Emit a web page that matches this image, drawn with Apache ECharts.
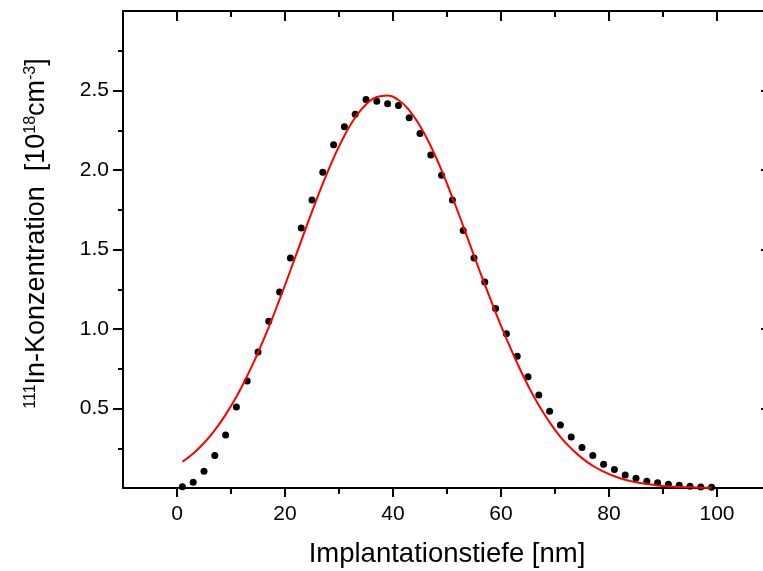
<!DOCTYPE html>
<html>
<head>
<meta charset="utf-8">
<script src="https://cdn.jsdelivr.net/npm/echarts@6/dist/echarts.min.js"></script>
<style>
html,body{margin:0;padding:0;background:#fff;}
#c{width:763px;height:571px;}
</style>
</head>
<body>
<div id="c"></div>
<script>
// Depth positions [nm]
const depth = [1,3,5,7,9,11,13,15,17,19,21,23,25,27,29,31,33,35,37,39,41,43,45,47,49,
               51,53,55,57,59,61,63,65,67,69,71,73,75,77,79,81,83,85,87,89,91,93,95,97,99];
// Measured 111In concentration [1e18 cm^-3]
const measured = [0.008,0.036,0.105,0.205,0.334,0.51,0.673,0.855,1.049,1.233,1.446,1.636,1.812,1.986,2.159,2.272,2.351,2.443,2.433,2.416,2.406,2.328,2.230,2.094,1.967,
                  1.812,1.620,1.446,1.296,1.129,0.970,0.828,0.700,0.585,0.483,0.397,0.320,0.255,0.205,0.150,0.117,0.082,0.061,0.042,0.033,0.023,0.017,0.011,0.006,0.004];
// Fitted curve (red)
const fit = [0.165,0.217,0.283,0.364,0.461,0.574,0.705,0.851,1.012,1.186,1.368,1.554,1.738,1.914,2.075,2.216,2.330,2.412,2.459,2.469,2.440,2.375,2.277,2.149,1.997,
             1.827,1.647,1.461,1.28,1.105,0.94,0.785,0.645,0.52,0.414,0.322,0.249,0.188,0.14,0.103,0.074,0.052,0.036,0.025,0.016,0.01,0.006,0.004,0.002,0.001];
// Tick values
const xTickLabels = [0,20,40,60,80,100];
const xMinorTicks = [10,30,50,70,90];
const yTickLabels = [0.5,1.0,1.5,2.0,2.5];
const yMinorTicks = [0.25,0.75,1.25,1.75,2.25,2.75];

const FONT = '"Liberation Sans", Arial, sans-serif';
const BLACK = '#000';
const gridRect = {left:123, top:11, width:648, height:477, outerBoundsMode:'none', containLabel:false};

function xAx(gi, pos, opts){
  return Object.assign({
    gridIndex: gi, type:'value', position: pos, min:-10, max:110, interval:10,
    axisLine:{show:false, onZero:false, lineStyle:{color:BLACK,width:2}},
    axisTick:{show:false},
    axisLabel:{show:false},
    splitLine:{show:false}
  }, opts);
}
function yAx(gi, pos, opts){
  return Object.assign({
    gridIndex: gi, type:'value', position: pos, min:0, max:3, interval:0.5,
    axisLine:{show:false, onZero:false, lineStyle:{color:BLACK,width:2}},
    axisTick:{show:false},
    axisLabel:{show:false},
    splitLine:{show:false}
  }, opts);
}

const chart = echarts.init(document.getElementById('c'), null, {renderer:'canvas'});
chart.setOption({
  animation:false,
  backgroundColor:'#fff',
  grid:[Object.assign({}, gridRect), Object.assign({}, gridRect)],
  xAxis:[
    xAx(0,'bottom',{
      axisLine:{show:true,onZero:false,lineStyle:{color:BLACK,width:2}},
      axisTick:{show:true,inside:false,length:9,customValues:xTickLabels,lineStyle:{color:BLACK,width:2}},
      axisLabel:{show:true,customValues:xTickLabels,margin:16,fontSize:21,color:BLACK,fontFamily:FONT},
      name:'Implantationstiefe [nm]', nameLocation:'middle', nameGap:52,
      nameTextStyle:{fontSize:27.5,color:BLACK,fontFamily:FONT}
    }),
    xAx(0,'top',{
      axisLine:{show:true,onZero:false,lineStyle:{color:BLACK,width:2}},
      axisTick:{show:true,inside:true,length:10,customValues:xTickLabels,lineStyle:{color:BLACK,width:2}}
    }),
    xAx(1,'bottom',{
      axisTick:{show:true,inside:false,length:6,customValues:xMinorTicks,lineStyle:{color:BLACK,width:2}}
    }),
    xAx(1,'top',{
      axisTick:{show:true,inside:true,length:6,customValues:xMinorTicks,lineStyle:{color:BLACK,width:2}}
    })
  ],
  yAxis:[
    yAx(0,'left',{
      axisLine:{show:true,onZero:false,lineStyle:{color:BLACK,width:2}},
      axisTick:{show:true,inside:false,length:10,customValues:yTickLabels,lineStyle:{color:BLACK,width:2}},
      axisLabel:{show:true,customValues:yTickLabels,margin:14,fontSize:21,color:BLACK,fontFamily:FONT,
                 formatter:function(v){return Number(v).toFixed(1);}},
      name:'{sup|111}In-Konzentration  [10{sup|18}cm{sup|-3}]',
      nameLocation:'middle', nameGap:73, nameRotate:90,
      nameTextStyle:{fontSize:27,color:BLACK,fontFamily:FONT,padding:[0,0,0,32],
        rich:{sup:{fontSize:16,lineHeight:16,verticalAlign:'top',color:BLACK,fontFamily:FONT}}}
    }),
    yAx(0,'right',{
      axisLine:{show:true,onZero:false,lineStyle:{color:BLACK,width:2}},
      axisTick:{show:true,inside:true,length:10,customValues:yTickLabels,lineStyle:{color:BLACK,width:2}}
    }),
    yAx(1,'left',{
      axisTick:{show:true,inside:false,length:5,customValues:yMinorTicks,lineStyle:{color:BLACK,width:2}}
    }),
    yAx(1,'right',{
      axisTick:{show:true,inside:true,length:5,customValues:yMinorTicks,lineStyle:{color:BLACK,width:2}}
    })
  ],
  series:[
    {
      type:'scatter', xAxisIndex:0, yAxisIndex:0,
      data: depth.map(function(d,i){return [d, measured[i]];}),
      symbol:'circle', symbolSize:7,
      itemStyle:{color:BLACK, opacity:1},
      silent:true, z:2
    },
    {
      type:'line', xAxisIndex:0, yAxisIndex:0,
      data: depth.map(function(d,i){return [d, fit[i]];}),
      showSymbol:false, smooth:true,
      lineStyle:{color:'#ff0000',width:2},
      silent:true, z:3
    }
  ]
});
</script>
</body>
</html>
